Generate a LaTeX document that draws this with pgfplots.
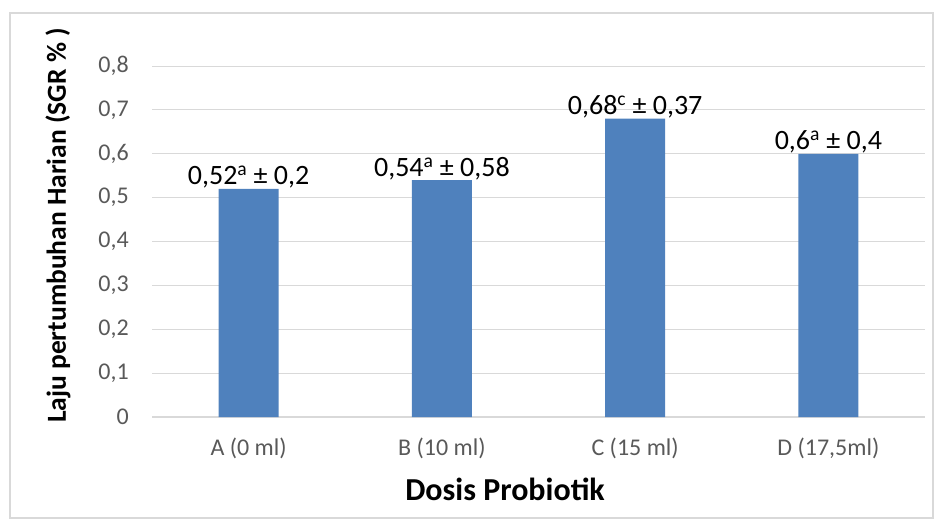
\documentclass[border=0pt]{standalone}
\usepackage{fontspec}
\setmainfont{Carlito}
\usepackage{pgfplots}
\pgfplotsset{compat=1.18}
\definecolor{barblue}{HTML}{4F81BD}
\definecolor{gridc}{HTML}{D9D9D9}
\definecolor{tickc}{HTML}{595959}
\begin{document}
\begin{tikzpicture}[x=1pt,y=1pt]
\useasboundingbox (0,0) rectangle (935,-520);
\draw[gridc, line width=1.2pt] (10,-13) rectangle (933,-518);
\begin{axis}[
 at={(152pt,-417pt)}, anchor=south west,
 scale only axis, width=773pt, height=351pt,
 xmin=-0.5, xmax=3.5, ymin=0, ymax=0.8,
 ytick={0,0.1,0.2,0.3,0.4,0.5,0.6,0.7,0.8},
 xtick={0,1,2,3},
 xticklabels={A (0 ml),B (10 ml),C (15 ml),{D (17,5ml)}},
 axis lines*=left,
 x axis line style={gridc, line width=1.5pt, -},
 y axis line style={draw=none},
 major tick length=0pt,
 ymajorgrids, grid style={gridc, line width=1pt},
 yticklabel style={/pgf/number format/.cd, use comma, fixed, precision=1, assume math mode=true, /tikz/.cd,
   font=\fontsize{24pt}{28pt}\selectfont, text=tickc, anchor=east, inner sep=0pt, xshift=-23pt},
 xticklabel style={font=\fontsize{24pt}{28pt}\selectfont, text=tickc, anchor=center, inner sep=0pt, yshift=-31pt},
 xlabel={Dosis Probiotik},
 xlabel style={font=\fontsize{32pt}{36pt}\selectfont\bfseries, at={(axis description cs:0.4567,-0.205)}, anchor=center},
 ylabel={Laju pertumbuhan Harian (SGR \% )},
 ylabel style={font=\fontsize{27.5pt}{32pt}\selectfont\bfseries, at={(axis description cs:-0.1216,0.5456)}, anchor=center},
 point meta=explicit symbolic,
 nodes near coords={\pgfplotspointmeta},
 nodes near coords style={font=\fontsize{28pt}{32pt}\selectfont, text=black, anchor=base, inner sep=0pt, yshift=4pt},
 clip=false,
]
\addplot[ybar, bar width=60pt, fill=barblue, draw=none] coordinates {
 (0,0.52) [{0,52\textsuperscript{a} ± 0,2}]
 (1,0.54) [{0,54\textsuperscript{a} ± 0,58}]
 (2,0.68) [{0,68\textsuperscript{c} ± 0,37}]
 (3,0.60) [{0,6\textsuperscript{a} ± 0,4}]
};
\end{axis}
\end{tikzpicture}
\end{document}
